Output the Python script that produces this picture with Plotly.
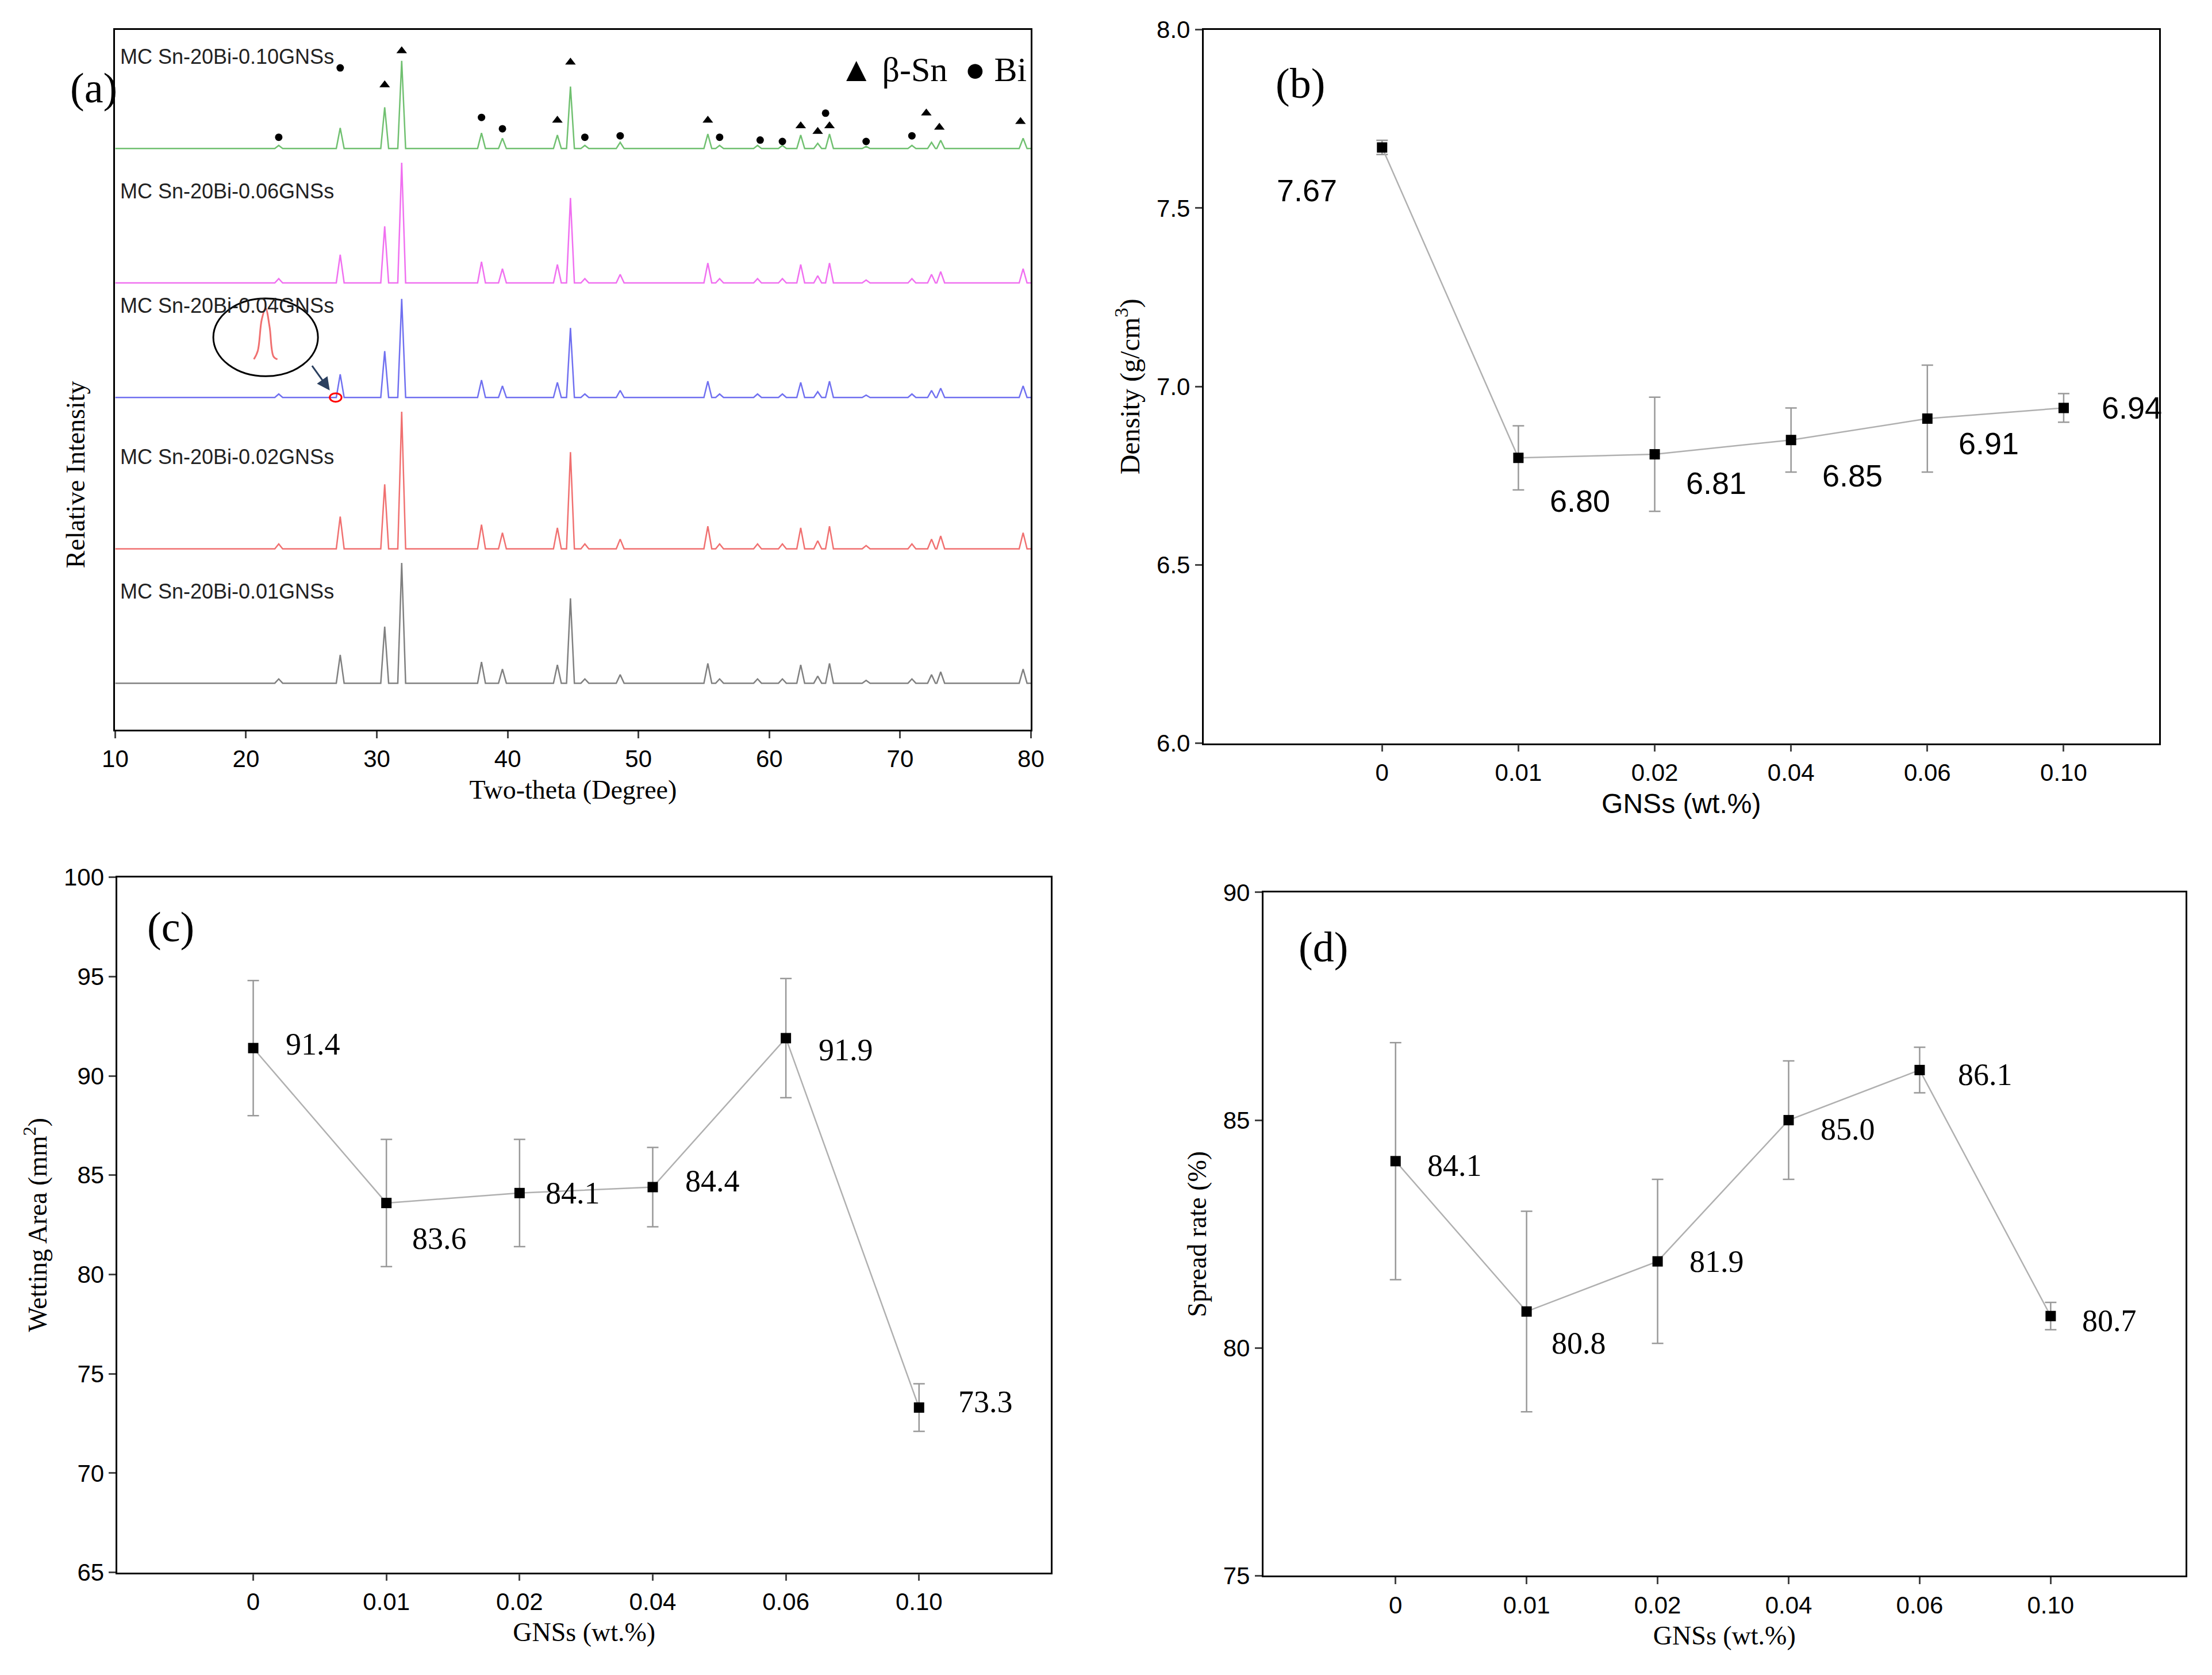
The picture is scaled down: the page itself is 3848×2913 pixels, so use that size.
import plotly.graph_objects as go

# ---------------- data ----------------
gns = ["0", "0.01", "0.02", "0.04", "0.06", "0.10"]
density = [7.67, 6.80, 6.81, 6.85, 6.91, 6.94]
density_err = [0.02, 0.09, 0.16, 0.09, 0.15, 0.04]
wetting = [91.4, 83.6, 84.1, 84.4, 91.9, 73.3]
wetting_err = [3.4, 3.2, 2.7, 2.0, 3.0, 1.2]
spread = [84.1, 80.8, 81.9, 85.0, 86.1, 80.7]
spread_err = [2.6, 2.2, 1.8, 1.3, 0.5, 0.3]

peak_pos = [22.5, 27.2, 30.6, 31.9, 38.0, 39.6, 43.8, 44.8, 45.9, 48.6, 55.3, 56.2,
            59.1, 61.0, 62.4, 63.7, 64.6, 67.4, 70.9, 72.4, 73.1, 79.4]
peak_rel = [3, 20, 40, 85, 15, 10, 13, 60, 3, 6, 14, 3, 3, 3, 13, 5, 14, 2, 3, 6, 8, 10]
pattern_names = ["MC Sn-20Bi-0.01GNSs", "MC Sn-20Bi-0.02GNSs", "MC Sn-20Bi-0.04GNSs",
                 "MC Sn-20Bi-0.06GNSs", "MC Sn-20Bi-0.10GNSs"]
pattern_base = [33, 128, 235, 316, 411]
pattern_scale = [1.0, 1.14, 0.82, 1.0, 0.73]
pattern_colors = ["#808080", "#f07070", "#7070f0", "#f070f0", "#70c070"]
sn_peaks = [30.6, 31.9, 43.8, 44.8, 55.3, 62.4, 63.7, 64.6, 72.0, 73.0, 79.2]
sn_h = [45, 69, 20, 61, 20, 16, 12, 16, 25, 15, 19]
bi_peaks = [22.5, 27.2, 38.0, 39.6, 45.9, 48.6, 56.2, 59.3, 61.0, 64.3, 67.4, 70.9]
bi_h = [8, 57, 22, 14, 8, 9, 8, 6, 5, 25, 5, 9]
inset_x = [20.6, 20.9, 21.2, 21.5, 21.8, 22.1, 22.4]
inset_y = [262, 268, 290, 298, 285, 264, 262]

serif = "Liberation Serif"
sans = "Liberation Sans"
fig = go.Figure()

# ---------------- panel (a) ----------------
for name, base, sc, col in zip(pattern_names, pattern_base, pattern_scale, pattern_colors):
    xs, ys = [10.0], [base]
    for p, h in zip(peak_pos, peak_rel):
        xs += [p - 0.3, p, p + 0.3]
        ys += [base, base + h * sc, base]
    xs.append(80.0); ys.append(base)
    fig.add_trace(go.Scatter(x=xs, y=ys, mode="lines", line=dict(color=col, width=2.5),
                             xaxis="x", yaxis="y", showlegend=False))
    fig.add_annotation(x=10.3, y=base + 65, text=name, xref="x", yref="y", showarrow=False,
                       xanchor="left", font=dict(family=sans, size=36, color="#222"))

top = pattern_base[4]
fig.add_trace(go.Scatter(x=sn_peaks, y=[top + h for h in sn_h], mode="markers",
                         marker=dict(symbol="triangle-up", size=16, color="black"),
                         xaxis="x", yaxis="y", showlegend=False))
fig.add_trace(go.Scatter(x=bi_peaks, y=[top + h for h in bi_h], mode="markers",
                         marker=dict(symbol="circle", size=13, color="black"),
                         xaxis="x", yaxis="y", showlegend=False))
fig.add_trace(go.Scatter(x=inset_x, y=inset_y, mode="lines", line=dict(color="#f07070", width=3, shape="spline"),
                         xaxis="x", yaxis="y", showlegend=False))
fig.add_annotation(x=72.5, y=467, xref="x", yref="y", showarrow=False,
                   text="▲ β-Sn  ● Bi", font=dict(family=serif, size=60, color="black"))
fig.add_shape(type="circle", xref="x", yref="y", x0=17.5, x1=25.5, y0=250, y1=305,
              line=dict(color="black", width=3))
fig.add_shape(type="circle", xref="x", yref="y", x0=26.4, x1=27.3, y0=232, y1=238,
              line=dict(color="red", width=3))
fig.add_annotation(x=26.4, y=240, ax=25, ay=258, xref="x", yref="y", axref="x", ayref="y",
                   text="", showarrow=True, arrowhead=2, arrowsize=1.5, arrowwidth=3)
fig.add_annotation(x=0.025, y=0.776, xref="paper", yref="paper", text="Relative Intensity", textangle=-90,
                   showarrow=False, font=dict(family=serif, size=46))
fig.add_annotation(x=0.029, y=0.965, xref="paper", yref="paper", text="(a)", showarrow=False,
                   font=dict(family=serif, size=74))

# ---------------- panels b, c, d ----------------
def add_panel(vals, errs, xa, ya, labels_off, font):
    fig.add_trace(go.Scatter(x=list(range(6)), y=vals, mode="lines+markers",
                             line=dict(color="#b0b0b0", width=2.5),
                             marker=dict(symbol="square", size=18, color="black"),
                             error_y=dict(type="data", array=errs, color="#999", thickness=2.5, width=10),
                             xaxis=xa, yaxis=ya, showlegend=False))
    for i, (v, off) in enumerate(zip(vals, labels_off)):
        fig.add_annotation(x=i + off[0], y=v + off[1], xref=xa, yref=ya, showarrow=False,
                           text=("%.2f" % v) if font == sans else ("%.1f" % v),
                           font=dict(family=font, size=54, color="black"))

add_panel(density, density_err, "x2", "y2",
          [(-0.55, -0.12), (0.45, -0.12), (0.45, -0.08), (0.45, -0.1), (0.45, -0.07), (0.5, 0.0)], sans)
add_panel(wetting, wetting_err, "x3", "y3",
          [(0.45, 0.2), (0.4, -1.8), (0.4, 0.0), (0.45, 0.3), (0.45, -0.6), (0.5, 0.3)], serif)
add_panel(spread, spread_err, "x4", "y4",
          [(0.45, -0.1), (0.4, -0.7), (0.45, 0.0), (0.45, -0.2), (0.5, -0.1), (0.45, -0.1)], serif)

ax_common = dict(showline=True, linecolor="black", linewidth=2.5, mirror=True, ticks="outside",
                 ticklen=12, tickwidth=2.5, showgrid=False, zeroline=False, automargin=False)
cat_axis = dict(tickmode="array", tickvals=list(range(6)), ticktext=gns)

fig.update_layout(
    width=3848, height=2913, plot_bgcolor="white", paper_bgcolor="white",
    font=dict(color="black"),
    margin=dict(l=0, r=0, t=0, b=0),
    xaxis=dict(**ax_common, domain=[0.050, 0.464], range=[10, 80], dtick=10,
               title=dict(text="Two-theta (Degree)", font=dict(family=serif, size=46)),
               tickfont=dict(family=sans, size=42), anchor="y"),
    yaxis=dict(**ax_common, domain=[0.567, 0.985], range=[0, 495], showticklabels=False,
               anchor="x", tickvals=[]),
    xaxis2=dict(**ax_common, **cat_axis, domain=[0.542, 0.974], range=[-1.31, 5.7],
                title=dict(text="GNSs (wt.%)", font=dict(family=sans, size=48)),
                tickfont=dict(family=sans, size=42), anchor="y2"),
    yaxis2=dict(**ax_common, domain=[0.559, 0.985], range=[6.0, 8.0], dtick=0.5, tickformat=".1f",
                title=dict(text="Density (g/cm<sup>3</sup>)", font=dict(family=serif, size=48)),
                tickfont=dict(family=sans, size=42), anchor="x2"),
    xaxis3=dict(**ax_common, **cat_axis, domain=[0.051, 0.473], range=[-1.02, 5.99],
                title=dict(text="GNSs (wt.%)", font=dict(family=serif, size=46)),
                tickfont=dict(family=sans, size=42), anchor="y3"),
    yaxis3=dict(**ax_common, domain=[0.064, 0.479], range=[65, 100], dtick=5,
                title=dict(text="Wetting Area (mm<sup>2</sup>)", font=dict(family=serif, size=46)),
                tickfont=dict(family=sans, size=42), anchor="x3"),
    xaxis4=dict(**ax_common, **cat_axis, domain=[0.569, 0.986], range=[-1.01, 6.03],
                title=dict(text="GNSs (wt.%)", font=dict(family=serif, size=46)),
                tickfont=dict(family=sans, size=42), anchor="y4"),
    yaxis4=dict(**ax_common, domain=[0.062, 0.470], range=[75, 90], dtick=5,
                title=dict(text="Spread rate (%)", font=dict(family=serif, size=46)),
                tickfont=dict(family=sans, size=42), anchor="x4"),
)
fig.add_annotation(x=-0.6, y=7.85, xref="x2", yref="y2", text="(b)", showarrow=False,
                   font=dict(family=serif, size=74))
fig.add_annotation(x=-0.62, y=97.5, xref="x3", yref="y3", text="(c)", showarrow=False,
                   font=dict(family=serif, size=74))
fig.add_annotation(x=-0.55, y=88.8, xref="x4", yref="y4", text="(d)", showarrow=False,
                   font=dict(family=serif, size=74))

fig.write_html("out.html")
